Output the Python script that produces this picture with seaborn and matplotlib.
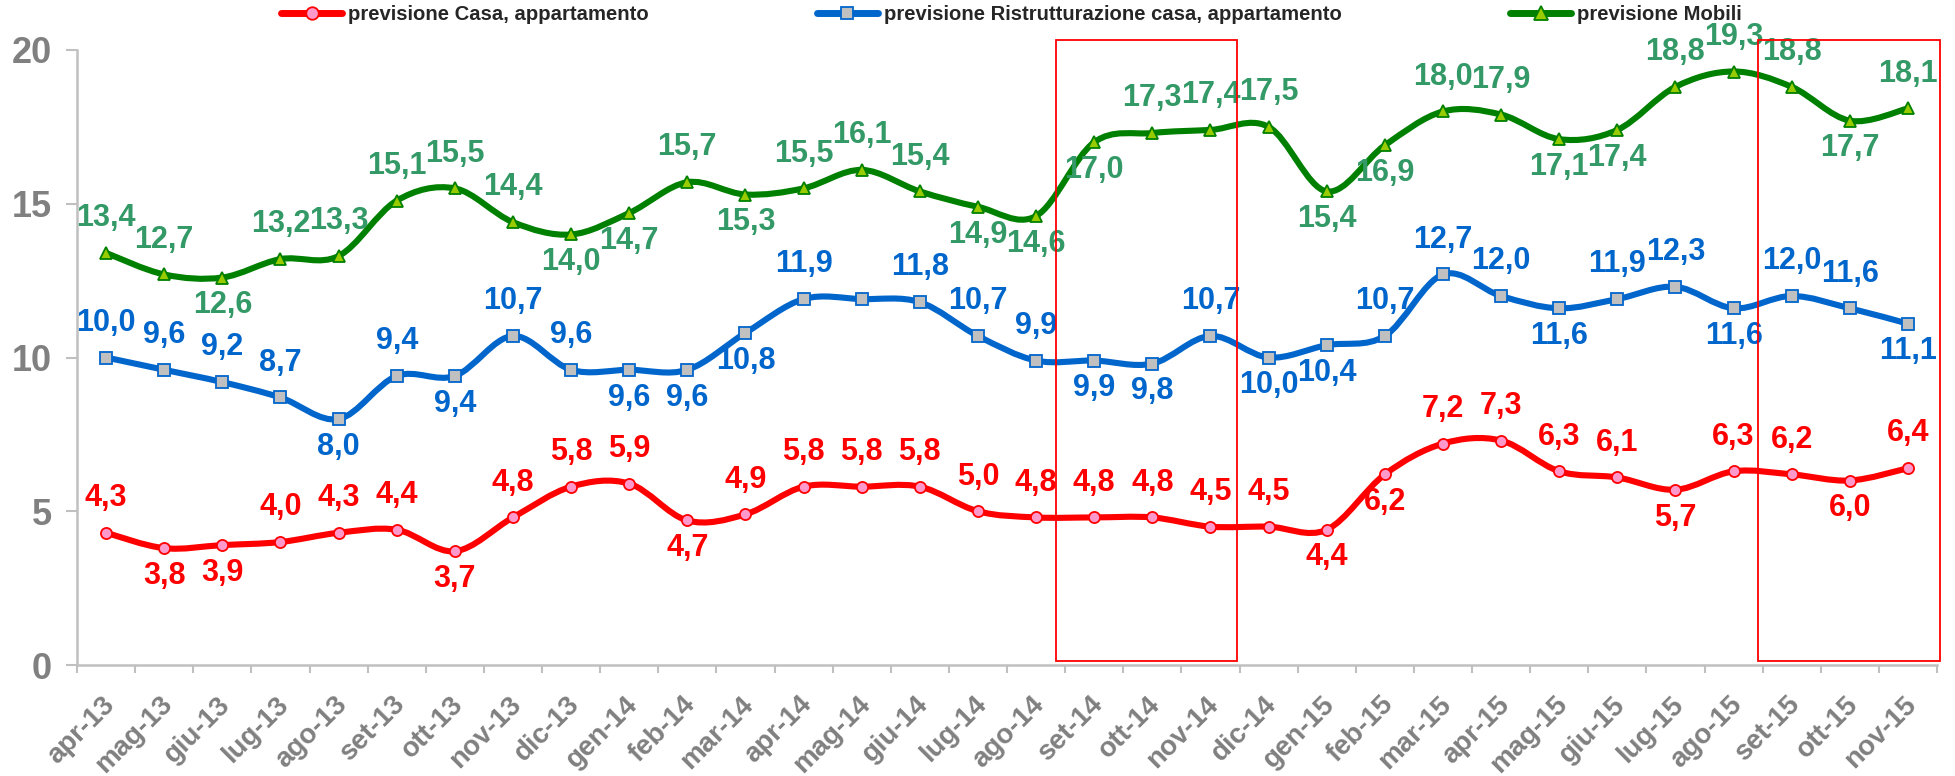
import numpy as np
import pandas as pd
import matplotlib
matplotlib.use('Agg')
import matplotlib.pyplot as plt
import matplotlib.transforms as mtransforms
from matplotlib.path import Path
from matplotlib.patches import PathPatch, Rectangle
from matplotlib.lines import Line2D
import seaborn as sns

mesi = ['apr-13', 'mag-13', 'giu-13', 'lug-13', 'ago-13', 'set-13', 'ott-13', 'nov-13',
        'dic-13', 'gen-14', 'feb-14', 'mar-14', 'apr-14', 'mag-14', 'giu-14', 'lug-14',
        'ago-14', 'set-14', 'ott-14', 'nov-14', 'dic-14', 'gen-15', 'feb-15', 'mar-15',
        'apr-15', 'mag-15', 'giu-15', 'lug-15', 'ago-15', 'set-15', 'ott-15', 'nov-15']

casa = [4.3, 3.8, 3.9, 4.0, 4.3, 4.4, 3.7, 4.8, 5.8, 5.9, 4.7, 4.9, 5.8, 5.8, 5.8, 5.0,
        4.8, 4.8, 4.8, 4.5, 4.5, 4.4, 6.2, 7.2, 7.3, 6.3, 6.1, 5.7, 6.3, 6.2, 6.0, 6.4]
ristrutturazione = [10.0, 9.6, 9.2, 8.7, 8.0, 9.4, 9.4, 10.7, 9.6, 9.6, 9.6, 10.8, 11.9, 11.9,
                    11.8, 10.7, 9.9, 9.9, 9.8, 10.7, 10.0, 10.4, 10.7, 12.7, 12.0, 11.6, 11.9,
                    12.3, 11.6, 12.0, 11.6, 11.1]
mobili = [13.4, 12.7, 12.6, 13.2, 13.3, 15.1, 15.5, 14.4, 14.0, 14.7, 15.7, 15.3, 15.5, 16.1,
          15.4, 14.9, 14.6, 17.0, 17.3, 17.4, 17.5, 15.4, 16.9, 18.0, 17.9, 17.1, 17.4, 18.8,
          19.3, 18.8, 17.7, 18.1]

nomi = ['previsione Casa, appartamento',
        'previsione Ristrutturazione casa, appartamento',
        'previsione Mobili']

# dove va l'etichetta: 1 sopra, -1 sotto, 0 niente
pos_casa = [1, -1, -1, 1, 1, 1, -1, 1, 1, 1, -1, 1, 1, 1, 1, 1,
            1, 1, 1, 1, 1, -1, -1, 1, 1, 1, 1, -1, 1, 1, -1, 1]
pos_ristr = [1, 1, 1, 1, -1, 1, -1, 1, 1, -1, -1, -1, 1, 0, 1, 1,
             1, -1, -1, 1, -1, -1, 1, 1, 1, -1, 1, 1, -1, 1, 1, -1]
pos_mobili = [1, 1, -1, 1, 1, 1, 1, 1, -1, -1, 1, -1, 1, 1, 1, -1,
              -1, -1, 1, 1, 1, -1, -1, 1, 1, -1, -1, 1, 1, 1, -1, 1]

df = pd.DataFrame({'idx': np.arange(len(mesi)), 'mese': mesi,
                   nomi[0]: casa, nomi[1]: ristrutturazione, nomi[2]: mobili})

sns.set_theme(style='white')
plt.rcParams['font.family'] = ['Liberation Sans', 'DejaVu Sans']

stili = {
    nomi[0]: dict(color='#FF0000', marker='o', mfc='#FF99CC', ms=8, txt='#FF0000', pos=pos_casa),
    nomi[1]: dict(color='#0066CC', marker='s', mfc='#C0C0C0', ms=8, txt='#0066CC', pos=pos_ristr),
    nomi[2]: dict(color='#008000', marker='^', mfc='#99CC00', ms=9, txt='#339966', pos=pos_mobili),
}


def curva(x, y):
    # linea smussata tipo Excel (Catmull-Rom -> Bezier)
    p = np.column_stack([x, y]).astype(float)
    n = len(p)
    verts = [p[0]]
    codes = [Path.MOVETO]
    for i in range(n - 1):
        p0 = p[i - 1] if i > 0 else p[i]
        p3 = p[i + 2] if i + 2 < n else p[i + 1]
        verts += [p[i] + (p[i + 1] - p0) / 6, p[i + 1] - (p3 - p[i]) / 6, p[i + 1]]
        codes += [Path.CURVE4] * 3
    return Path(verts, codes)


fig = plt.figure(figsize=(19.55, 7.76), dpi=100)
ax = fig.add_axes([0.0394, 0.143, 0.9514, 0.7926])

handles = []
for nome, s in stili.items():
    ax.add_patch(PathPatch(curva(df['idx'], df[nome]), fill=False, edgecolor=s['color'],
                           lw=4.4, capstyle='round', joinstyle='round', zorder=2))
    sns.lineplot(data=df, x='idx', y=nome, ax=ax, color=s['color'], linewidth=0,
                 marker=s['marker'], markersize=s['ms'], markerfacecolor=s['mfc'],
                 markeredgecolor=s['color'], markeredgewidth=1.3, zorder=3)
    for i, v in enumerate(df[nome]):
        if s['pos'][i] == 0:
            continue
        dy = 25 if s['pos'][i] > 0 else -20
        ax.annotate(f'{v:.1f}'.replace('.', ','), (i, v), xytext=(0, dy),
                    textcoords='offset points', ha='center', va='center',
                    fontsize=22, fontweight='bold', color=s['txt'], zorder=4)
    handles.append(Line2D([], [], color=s['color'], lw=5, marker=s['marker'],
                          ms=s['ms'] + 1, mfc=s['mfc'], mec=s['color'], mew=1.3))

# riquadri rossi
for x0, x1 in [(16.35, 19.45), (28.42, 31.55)]:
    ax.add_patch(Rectangle((x0, 0.12), x1 - x0, 20.2, fill=False, edgecolor='#FF0000',
                           lw=1.3, clip_on=False, zorder=5))

ax.set_xlim(-0.5, 31.5)
ax.set_ylim(0, 20)
ax.set_xlabel('')
ax.set_ylabel('')
ax.set_yticks([0, 5, 10, 15, 20])
ax.set_xticks(range(len(mesi)))
ax.set_xticklabels(mesi, rotation=45, ha='right', va='top', rotation_mode='anchor')
ax.set_xticks(np.arange(-0.5, len(mesi), 1), minor=True)
ax.tick_params(axis='x', which='major', length=0, pad=19, labelsize=20, labelcolor='#808080')
ax.tick_params(axis='x', which='minor', length=6, width=1.5, color='#C0C0C0', direction='out')
ax.tick_params(axis='y', length=8, width=1.5, color='#C0C0C0', direction='out', pad=10,
               labelsize=26, labelcolor='#808080')
ax.yaxis.set_ticks_position('left')
ax.xaxis.set_ticks_position('bottom')
for lab in ax.get_xticklabels() + ax.get_yticklabels():
    lab.set_fontweight('bold')
off = mtransforms.ScaledTranslation(-3.5 / 72, 0, fig.dpi_scale_trans)
for lab in ax.get_xticklabels():
    lab.set_transform(lab.get_transform() + off)

sns.despine(ax=ax)
for sp in ['left', 'bottom']:
    ax.spines[sp].set_color('#C0C0C0')
    ax.spines[sp].set_linewidth(1.8)

fig.legend(handles, nomi, loc='center left', bbox_to_anchor=(0.1386, 0.981), ncol=3,
           frameon=False, borderpad=0, handlelength=3.0, handletextpad=0.3,
           columnspacing=8.3, prop={'size': 14.6, 'weight': 'bold'})

fig.savefig('out.png', dpi=100)
